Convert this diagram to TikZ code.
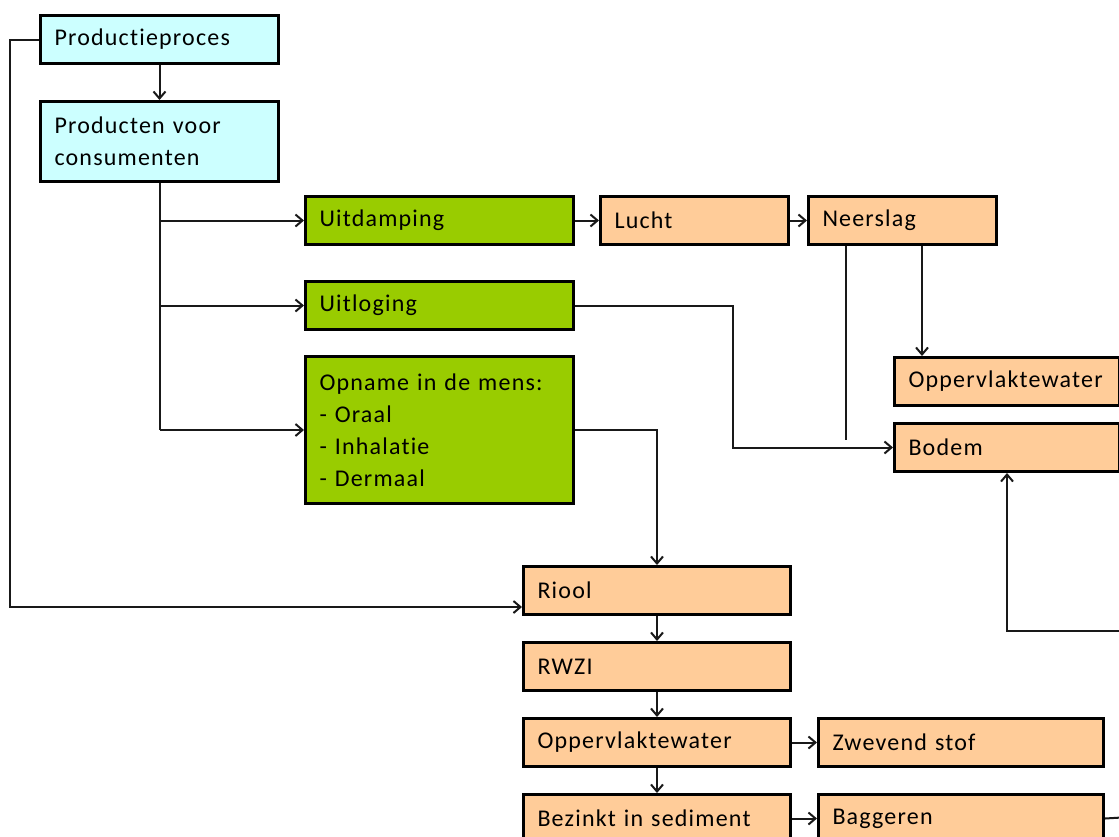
\documentclass[tikz,border=0pt]{standalone}
\usepackage{fontspec}
\setmainfont[LetterSpace=5,Ligatures=NoCommon]{Carlito}
\usetikzlibrary{arrows.meta,calc}
\definecolor{cyanbox}{RGB}{204,255,255}
\definecolor{greenbox}{RGB}{153,204,0}
\definecolor{peachbox}{RGB}{255,204,153}
\begin{document}
\begin{tikzpicture}[x=1pt,y=-1pt,
  box/.style={draw=black, line width=3pt, anchor=north west, inner xsep=14pt, inner ysep=0pt,
    align=left, font=\fontsize{24}{32}\selectfont},
  prodbox/.style={box, fill=cyanbox},
  routebox/.style={box, fill=greenbox},
  envbox/.style={box, fill=peachbox},
  link/.style={draw=black!90, line width=2pt},
  arr/.style={link, -{Straight Barb[length=7pt,width=12pt,line width=2pt]}}]
\useasboundingbox (0,0) rectangle (1119,836);
\clip (0,0) rectangle (1119,836);

% source and products
\node[prodbox, minimum width=238pt, minimum height=48pt, text width=210pt] (prod) at (39,14) {Productieproces};
\node[prodbox, minimum width=238pt, minimum height=80pt, text width=210pt] (cons) at (39,100) {Producten voor\\consumenten};

% release routes
\node[routebox, minimum width=268pt, minimum height=48pt, text width=240pt] (uitd) at (304,195) {Uitdamping};
\node[routebox, minimum width=268pt, minimum height=48pt, text width=240pt] (uitl) at (304,280) {Uitloging};
\node[routebox, minimum width=268pt, minimum height=147pt, text width=240pt] (opn) at (304,355)
  {Opname in de mens:\\- Oraal\\- Inhalatie\\- Dermaal};

% environmental compartments
\node[envbox, minimum width=188pt, minimum height=48pt, text width=160pt] (lucht) at (599,195) {Lucht};
\node[envbox, minimum width=188pt, minimum height=48pt, text width=160pt] (neer) at (807,195) {Neerslag};
\node[envbox, minimum width=225pt, minimum height=48pt, text width=197pt] (ow1) at (893,356) {Oppervlaktewater};
\node[envbox, minimum width=225pt, minimum height=48pt, text width=197pt] (bodem) at (893,422) {Bodem};
\node[envbox, minimum width=267pt, minimum height=48pt, text width=239pt] (riool) at (522,565) {Riool};
\node[envbox, minimum width=267pt, minimum height=48pt, text width=239pt] (rwzi) at (522,641) {RWZI};
\node[envbox, minimum width=267pt, minimum height=48pt, text width=239pt] (ow2) at (522,717) {Oppervlaktewater};
\node[envbox, minimum width=267pt, minimum height=48pt, text width=239pt] (bez) at (522,793) {Bezinkt in sediment};
\node[envbox, minimum width=285pt, minimum height=48pt, text width=257pt] (zwev) at (817,717) {Zwevend stof};
\node[envbox, minimum width=285pt, minimum height=48pt, text width=257pt] (bag) at (817,793) {Baggeren};

% helper points
\coordinate (loopx) at (10,0);
\coordinate (nlx) at (846,440);
\coordinate (nrx) at (922,0);
\coordinate (uitlx) at (733,0);
\coordinate (rightin) at (1130,631);
\coordinate (rightout) at (1130,817);

% connectors
\draw[arr] (prod.south) -- (cons.north);
\draw[link] (cons.south) -- (cons.south |- opn.west);
\draw[arr] (cons.south |- uitd.west) -- (uitd.west);
\draw[arr] (cons.south |- uitl.west) -- (uitl.west);
\draw[arr] (cons.south |- opn.west) -- (opn.west);
\draw[arr] (uitd.east) -- (lucht.west);
\draw[arr] (lucht.east) -- (neer.west);
\draw[link] (nlx |- neer.south) -- (nlx);
\draw[arr] (nrx |- neer.south) -- (nrx |- ow1.north);
\draw[arr] (uitl.east) -- (uitlx |- uitl.east) |- (bodem.west);
\draw[arr] (opn.east) -| (riool.north);
\draw[arr] (prod.west) -- (loopx |- prod.west) |- ($(riool.south west)+(0,-9)$);
\draw[arr] (riool.south) -- (rwzi.north);
\draw[arr] (rwzi.south) -- (ow2.north);
\draw[arr] (ow2.south) -- (bez.north);
\draw[arr] (ow2.east) -- (zwev.west);
\draw[arr] (bez.east) -- (bag.west);
\draw[link] (bag.east) -- (rightout);
\draw[arr] (rightin) -| (bodem.south);
\end{tikzpicture}
\end{document}
